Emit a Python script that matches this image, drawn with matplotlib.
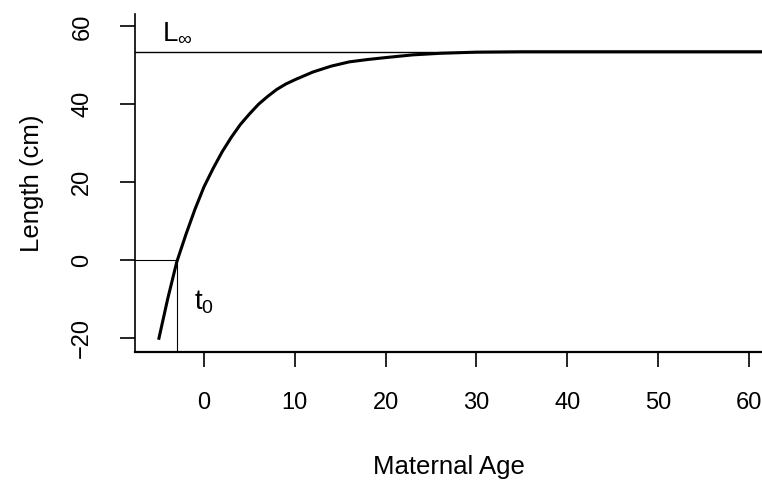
import matplotlib
matplotlib.use("Agg")
import matplotlib.pyplot as plt

plt.rcParams['font.family'] = ['Liberation Sans', 'DejaVu Sans']
plt.rcParams['mathtext.fontset'] = 'custom'
plt.rcParams['mathtext.rm'] = 'Liberation Sans'

# growth curve
ages = [-5, -4, -3, -2, -1, 0, 1, 2, 3, 4, 5, 6, 7, 8, 9, 10,
        12, 14, 16, 18, 20, 23, 26, 30, 35, 45, 62]
lengths = [-20.5, -10, -0.5, 6.5, 13, 18.8, 23.5, 27.8, 31.5, 34.8, 37.5,
           40, 42, 43.8, 45.2, 46.3, 48.3, 49.8, 50.9, 51.5, 52.0, 52.7,
           53.1, 53.4, 53.5, 53.5, 53.5]

L_inf = 53.5
t0 = -3.0

x_ticks = [0, 10, 20, 30, 40, 50, 60]
y_ticks = [-20, 0, 20, 40, 60]

fig = plt.figure(figsize=(7.62, 4.83), dpi=100)
ax = fig.add_axes([135 / 762, 1 - 352 / 483, 1 - 135 / 762, 338 / 483])

xlo, xhi = -7.6, 61.45
ylo, yhi = -23.65, 63.2
ax.set_xlim(xlo, xhi)
ax.set_ylim(ylo, yhi)

# curve
ax.plot(ages, lengths, color='black', lw=2.2, solid_capstyle='butt')

# L infinity and t0 guide lines
ax.plot([xlo, xhi], [L_inf, L_inf], color='black', lw=1.0)
ax.plot([xlo, t0], [0, 0], color='black', lw=0.8)
ax.plot([t0, t0], [ylo, 0], color='black', lw=0.8)

ax.text(-4.6, 56.6, r'$\mathregular{L_\infty}$', fontsize=20, ha='left', va='baseline')
ax.text(-1.1, -12.8, r'$\mathregular{t_0}$', fontsize=20, ha='left', va='baseline')

# R-style axes
for s in ['top', 'right']:
    ax.spines[s].set_visible(False)
ax.spines['left'].set_linewidth(1.2)
ax.spines['bottom'].set_linewidth(1.6)

ax.set_xticks(x_ticks)
ax.set_yticks(y_ticks)
ax.set_yticklabels([str(v).replace('-', '\u2212') for v in y_ticks],
                   rotation=90, va='center')
ax.tick_params(axis='x', length=11, width=1.2, pad=18, labelsize=17)
ax.tick_params(axis='y', length=11, width=1.2, pad=19, labelsize=17)

ax.set_xlabel('Maternal Age', fontsize=18.5, labelpad=29)
ax.set_ylabel('Length (cm)', fontsize=18.5, labelpad=20)

fig.savefig('out.png', dpi=100)
